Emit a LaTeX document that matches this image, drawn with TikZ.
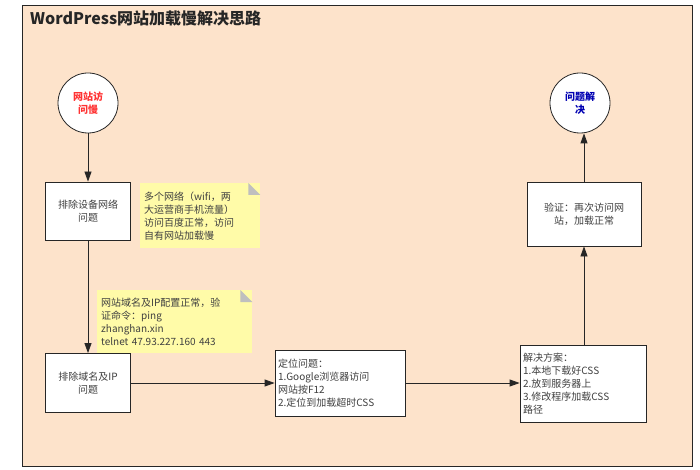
\documentclass[tikz,border=0pt]{standalone}
\usepackage{fontspec}
\setmainfont{Noto Sans CJK SC}
\usetikzlibrary{arrows.meta}
\definecolor{peach}{HTML}{FDE3CB}
\definecolor{notey}{HTML}{FFFBA8}
\begin{document}
\begin{tikzpicture}[x=1pt, y=-1pt, every node/.style={font=\fontsize{10}{13}\selectfont, text=black!75},
  stepbox/.style={draw=black!85, thick, fill=white, minimum width=#1, align=center, inner sep=3pt},
  notebox/.style={fill=notey, align=left, inner sep=4pt},
  flow/.style={-{Triangle[length=10pt,width=7pt]}, thick, draw=black!85}]
      \useasboundingbox (0,0) rectangle (700,470);
      \fill[white] (0,0) rectangle (700,470);
      % frame
      \draw[thick, fill=peach, draw=black!85] (22,5) rectangle (692,466);
      \node[anchor=west, font=\bfseries\fontsize{16}{18}\selectfont, text=black!85, inner sep=0pt] (title) at (30,18) {WordPress网站加载慢解决思路};
      % start / end
      \node[circle, draw=black!85, thick, fill=white, minimum size=60pt, align=center, text=red!80, font=\bfseries\fontsize{10}{13}\selectfont] (start) at (88,103) {网站访\\问慢};
      \node[circle, draw=black!85, thick, fill=white, minimum size=60pt, align=center, text=blue!70!black, font=\bfseries\fontsize{10}{13}\selectfont] (done) at (580,103) {问题解\\决};
      % steps
      \node[stepbox=85pt, minimum height=58pt] (net) at (88,211) {排除设备网络\\问题};
      \node[stepbox=85pt, minimum height=59pt] (dns) at (88,383) {排除域名及IP\\问题};
      \node[stepbox=130pt, minimum height=66pt, align=left, text width=124pt] (locate) at (340,383) {定位问题：\\1.Google浏览器访问\\网站按F12\\2.定位到加载超时CSS};
      \node[stepbox=126pt, minimum height=77pt, align=left, text width=120pt] (fix) at (583,384) {解决方案：\\1.本地下载好CSS\\2.放到服务器上\\3.修改程序加载CSS\\路径};
      \node[stepbox=114pt, minimum height=64pt, text width=100pt] (check) at (584,214) {验证：再次访问网\\站，加载正常};
      % notes
      \node[notebox, anchor=north west, text width=112pt, minimum height=65pt] (note1) at (140,183) {多个网络（wifi，两\\大运营商手机流量）\\访问百度正常，访问\\自有网站加载慢};
      \fill[black!25] ([xshift=-12pt]note1.north east) -- ([yshift=-12pt]note1.north east) -- ++(-12pt,0) -- cycle;
      \node[notebox, anchor=north west, text width=147pt, minimum height=63pt] (note2) at (97,290) {网站域名及IP配置正常，验\\证命令：ping\\zhanghan.xin\\telnet 47.93.227.160 443};
      \fill[black!25] ([xshift=-12pt]note2.north east) -- ([yshift=-12pt]note2.north east) -- ++(-12pt,0) -- cycle;
      % connectors
      \draw[flow] (start) -- (net);
      \draw[flow] (net) -- (dns);
      \draw[flow] (dns) -- (locate);
      \draw[flow] (locate) -- (locate -| fix.west);
      \draw[flow] (fix.north -| check) -- (check);
      \draw[flow] (check) -- (check |- done.south);
\end{tikzpicture}
\end{document}
